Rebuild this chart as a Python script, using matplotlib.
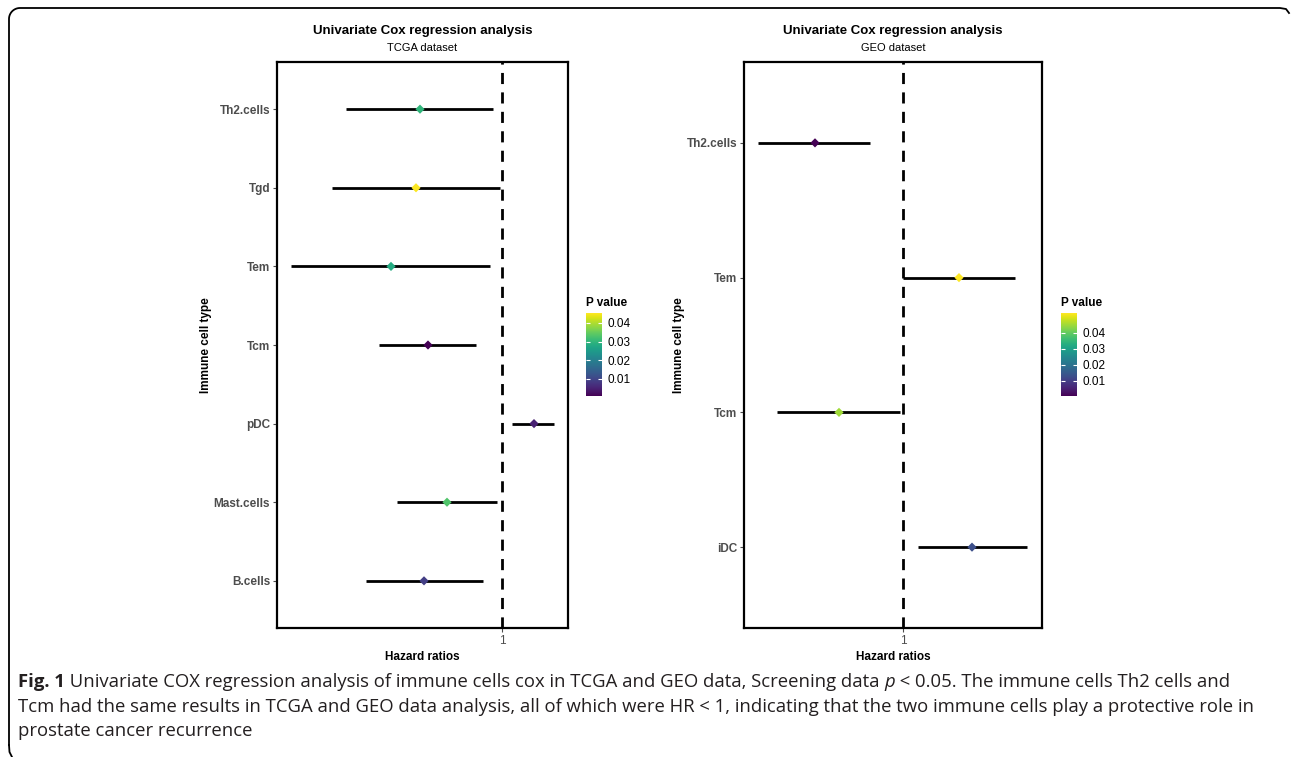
import numpy as np
import matplotlib
matplotlib.use('Agg')
import matplotlib.pyplot as plt
from matplotlib.cm import ScalarMappable
from matplotlib.colors import Normalize

plt.rcParams['font.family'] = ['Liberation Sans', 'DejaVu Sans']

# TCGA data (bottom to top)
tcga_cells = ['B.cells', 'Mast.cells', 'pDC', 'Tcm', 'Tem', 'Tgd', 'Th2.cells']
tcga_hr = [0.844, 0.890, 1.064, 0.852, 0.778, 0.828, 0.836]
tcga_low = [0.728, 0.790, 1.020, 0.754, 0.578, 0.660, 0.688]
tcga_high = [0.962, 0.990, 1.104, 0.948, 0.976, 0.996, 0.982]
tcga_p = [0.009, 0.033, 0.005, 0.001, 0.028, 0.045, 0.030]
tcga_prange = (0.0009, 0.0453)

# GEO data (bottom to top)
geo_cells = ['iDC', 'Tcm', 'Tem', 'Th2.cells']
geo_hr = [1.138, 0.872, 1.112, 0.824]
geo_low = [1.030, 0.748, 1.000, 0.710]
geo_high = [1.248, 0.994, 1.224, 0.934]
geo_p = [0.013, 0.045, 0.0525, 0.0006]
geo_prange = (0.0006, 0.0525)

p_ticks = [0.01, 0.02, 0.03, 0.04]

W, H = 1292, 757
fig = plt.figure(figsize=(W / 100, H / 100), dpi=100)

# background layer in pixel coords: frame + caption
bg = fig.add_axes([0, 0, 1, 1], zorder=-5)
bg.set_xlim(0, W)
bg.set_ylim(H, 0)
bg.axis('off')

r = 11
t = np.linspace(np.pi, 1.5 * np.pi, 20)
bx = [9] + list(9 + r + r * np.cos(t)) + [1280, 1286, 1289]
by = [745] + list(8 + r + r * np.sin(t)) + [8, 9, 13]
bg.plot(bx, by, color='black', lw=1.3)
bg.plot([9, 9.5, 12], [745, 752, 757], color='black', lw=1.3)


def panel(px, cells, hr, low, high, pvals, prange, xlim, title, sub, cbar_px):
    x0, y0, x1, y1 = px
    ax = fig.add_axes(fr(*px))
    y = np.arange(1, len(cells) + 1)
    norm = Normalize(vmin=prange[0], vmax=prange[1])
    cmap = plt.get_cmap('viridis')
    ax.hlines(y, low, high, color='black', lw=2.0, zorder=2)
    ax.scatter(hr, y, c=pvals, cmap=cmap, norm=norm, marker='D', s=22, zorder=3, linewidths=0)
    ax.axvline(1, color='black', ls=(0, (4, 3)), lw=2.0, zorder=1)
    ax.set_xlim(*xlim)
    ax.set_ylim(0.4, len(cells) + 0.6)
    ax.set_yticks(y)
    ax.set_yticklabels(cells, fontweight='bold', color='#4D4D4D', fontsize=8.5)
    ax.set_xticks([1])
    ax.set_xticklabels(['1'], color='#4D4D4D', fontsize=8.5)
    ax.tick_params(axis='both', color='#4D4D4D', length=3, width=0.8, pad=2)
    for s in ax.spines.values():
        s.set_linewidth(1.6)
        s.set_color('black')
    ax.set_xlabel('Hazard ratios', fontweight='bold', fontsize=8.5, labelpad=3)
    ax.set_ylabel('Immune cell type', fontweight='bold', fontsize=8.5, labelpad=1)
    cx = (x0 + x1) / 2
    bg.text(cx, 31, title, ha='center', va='center', fontweight='bold', fontsize=9.5)
    bg.text(cx, 48, sub, ha='center', va='center', fontsize=8)

    cax = fig.add_axes(fr(*cbar_px))
    cb = fig.colorbar(ScalarMappable(norm=norm, cmap=cmap), cax=cax)
    cb.outline.set_visible(False)
    cb.set_ticks(p_ticks)
    cb.set_ticklabels(['0.01', '0.02', '0.03', '0.04'])
    cax.tick_params(direction='in', color='white', labelcolor='black', length=3, width=0.8,
                    left=True, right=True, labelsize=8.5, pad=4)
    cax.set_title('P value', fontweight='bold', fontsize=8.5, loc='left', pad=5)
    return ax


def fr(x0, y0, x1, y1):
    return [x0 / W, 1 - y1 / H, (x1 - x0) / W, (y1 - y0) / H]


panel((277, 62, 568, 628), tcga_cells, tcga_hr, tcga_low, tcga_high, tcga_p, tcga_prange,
      (0.55, 1.132), 'Univariate Cox regression analysis', 'TCGA dataset', (586, 313, 602, 396))
panel((744, 62, 1042, 628), geo_cells, geo_hr, geo_low, geo_high, geo_p, geo_prange,
      (0.682, 1.278), 'Univariate Cox regression analysis', 'GEO dataset', (1061, 313, 1077, 396))

# caption
cap_font = ['Open Sans', 'DejaVu Sans']
lines = [
    [('Fig. 1', 'bold', 'normal'),
     (' Univariate COX regression analysis of immune cells cox in TCGA and GEO data, Screening data ', 'normal', 'normal'),
     ('p', 'normal', 'italic'),
     (' < 0.05. The immune cells Th2 cells and', 'normal', 'normal')],
    [('Tcm had the same results in TCGA and GEO data analysis, all of which were HR < 1, indicating that the two immune cells play a protective role in', 'normal', 'normal')],
    [('prostate cancer recurrence', 'normal', 'normal')],
]
renderer = fig.canvas.get_renderer()
probe = bg.text(0, 0, lines[1][0][0], fontsize=12, family=cap_font)
cap_size = 12 * 1229 / probe.get_window_extent(renderer).width
probe.remove()
for i, runs in enumerate(lines):
    x = 18
    yy = 682 + i * 24.5
    for txt, wt, st in runs:
        tt = bg.text(x, yy, txt, fontsize=cap_size, fontweight=wt, fontstyle=st, family=cap_font,
                     ha='left', va='center', color='#231F20')
        x = tt.get_window_extent(renderer).x1

fig.savefig('out.png', dpi=100)
